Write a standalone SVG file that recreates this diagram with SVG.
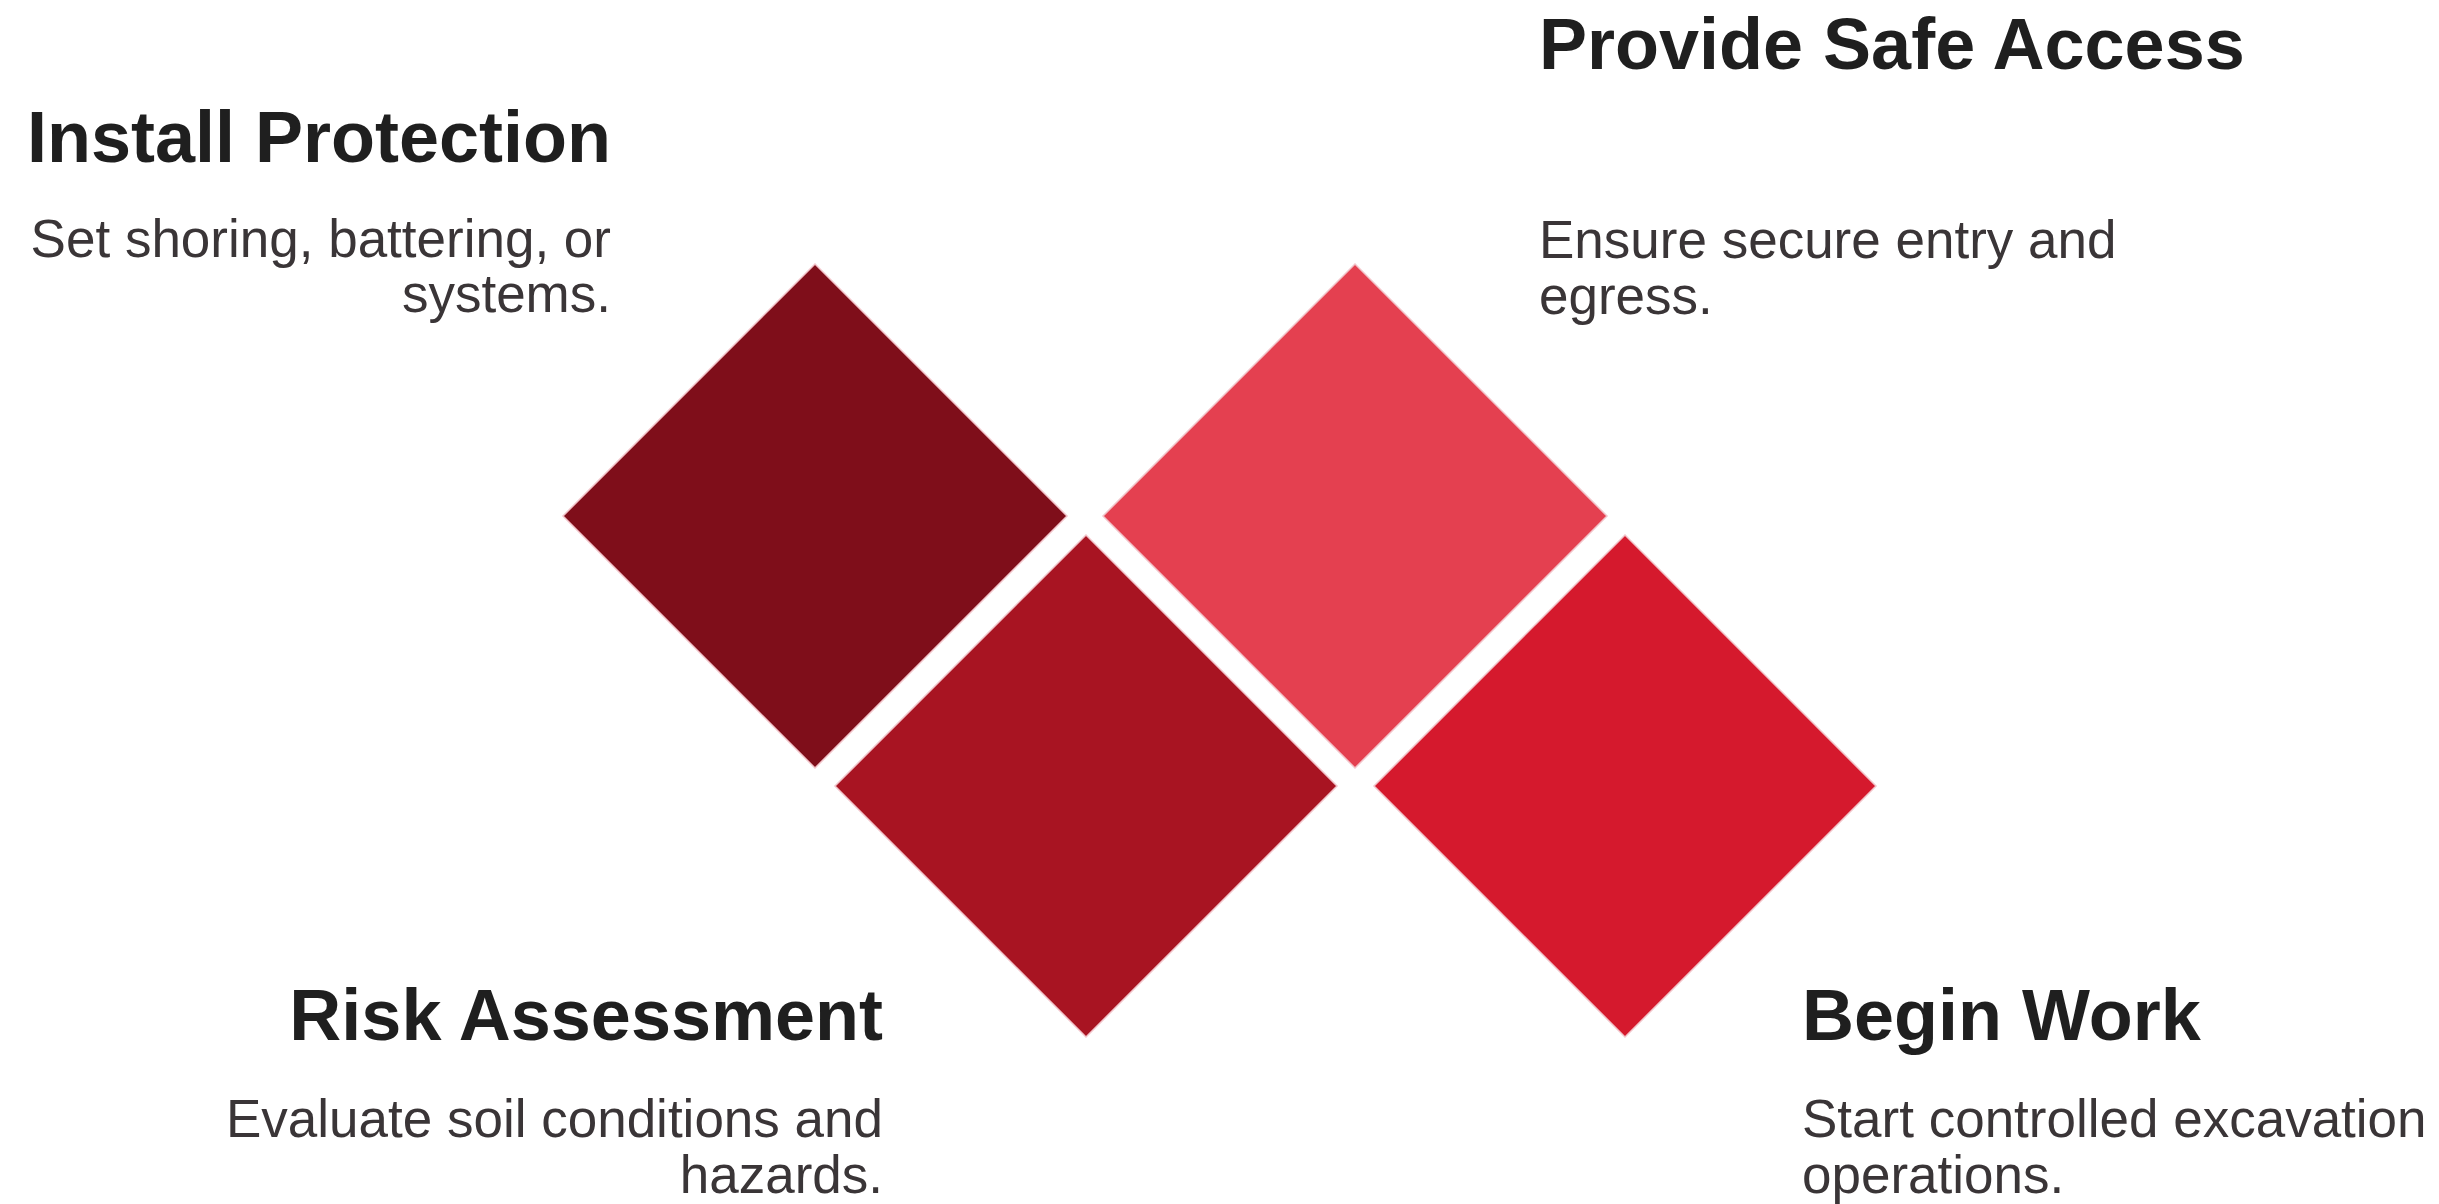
<svg xmlns="http://www.w3.org/2000/svg" width="2439" height="1204" viewBox="0 0 2439 1204">
<style>
.t{font-family:"Liberation Sans",Arial,sans-serif;font-weight:bold;font-size:72px;fill:#1f1f1f}
.b{font-family:"Liberation Sans",Arial,sans-serif;font-size:53px;fill:#3a3537}
.r{text-anchor:end}
.d{stroke:#f2c4ca;stroke-width:1.5}
</style>
<rect width="2439" height="1204" fill="#ffffff"/>
<g id="connectors"></g>
<g id="install-protection">
<polygon class="d" points="815,264 1067,516 815,768 563,516" fill="#7f0e1a"/>
<text class="t r" x="611" y="162">Install Protection</text>
<text class="b r" x="611" y="257">Set shoring, battering, or</text>
<text class="b r" x="611" y="312">systems.</text>
</g>
<g id="risk-assessment">
<polygon class="d" points="1086,535 1337,786 1086,1037 835,786" fill="#a81422"/>
<text class="t r" x="883" y="1040">Risk Assessment</text>
<text class="b r" x="883" y="1137">Evaluate soil conditions and</text>
<text class="b r" x="883" y="1193">hazards.</text>
</g>
<g id="provide-safe-access">
<polygon class="d" points="1355,264 1607,516 1355,768 1103,516" fill="#e44050"/>
<text class="t" x="1539" y="69">Provide Safe Access</text>
<text class="b" x="1539" y="258">Ensure secure entry and</text>
<text class="b" x="1539" y="314">egress.</text>
</g>
<g id="begin-work">
<polygon class="d" points="1625,535 1876,786 1625,1037 1374,786" fill="#d5192d"/>
<text class="t" x="1802" y="1040">Begin Work</text>
<text class="b" x="1802" y="1137">Start controlled excavation</text>
<text class="b" x="1802" y="1193">operations.</text>
</g>
</svg>
